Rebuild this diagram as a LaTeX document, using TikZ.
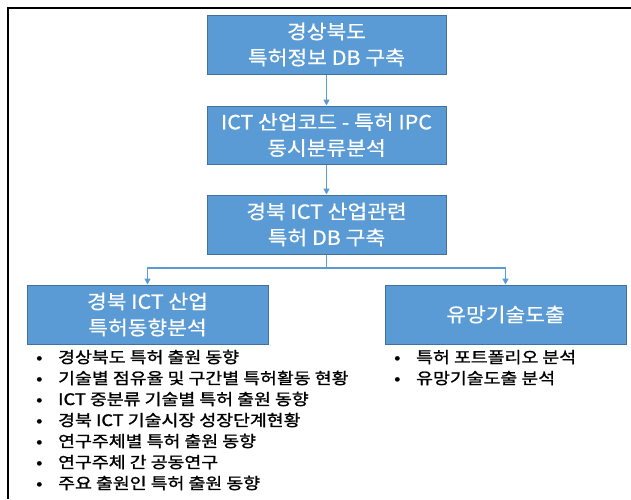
\documentclass[tikz,border=0pt]{standalone}
\usepackage{fontspec}
\setmainfont{Noto Sans CJK KR}
\newfontfamily\boxfont[FakeStretch=1.1,FakeBold=0.6]{Noto Sans CJK KR}
\newfontfamily\listfont[FakeStretch=1.16,FakeBold=1.2]{Noto Sans CJK KR}
\usetikzlibrary{arrows.meta}
\definecolor{boxblue}{HTML}{5B9BD5}
\definecolor{boxedge}{HTML}{41719C}
\tikzset{
  bx/.style={draw=boxedge, line width=1pt, fill=boxblue, text=white, align=center,
    font=\boxfont\fontsize{19.5}{26}\selectfont, inner sep=0pt},
  arr/.style={draw=boxblue, line width=1.5pt, -{Triangle[length=6pt,width=6pt]}},
  lnk/.style={draw=boxblue, line width=1.5pt},
  itm/.style={anchor=base west, inner sep=0pt, font=\listfont\fontsize{15.8}{21}\selectfont},
}
\begin{document}
\begin{tikzpicture}[x=1pt,y=-1pt]
\useasboundingbox (0,0) rectangle (631,499);
\draw[line width=1.8pt] (8,499) -- (8,8) -- (631,8);
\node[bx, minimum width=239pt, minimum height=59pt] (b1) at (326.5,44.5) {경상북도\\특허정보 DB 구축};
\node[bx, minimum width=239pt, minimum height=58pt] (b2) at (326.5,135) {ICT 산업코드 - 특허 IPC\\동시분류분석};
\node[bx, minimum width=239pt, minimum height=59pt] (b3) at (326.5,224.5) {경북 ICT 산업관련\\특허 DB 구축};
\node[bx, minimum width=241pt, minimum height=59pt] (b4) at (147.5,314.5) {경북 ICT 산업\\특허동향분석};
\node[bx, minimum width=241pt, minimum height=59pt] (b5) at (505.5,314.5) {유망기술도출};
\draw[arr] (b1) -- (b2);
\draw[arr] (b2) -- (b3);
\coordinate (j) at (326.5,268);
\draw[lnk] (b3) -- (j);
\draw[arr] (j) -| (b4);
\draw[arr] (j) -| (b5);
\node[itm] (l1) at (36,363) {\makebox[22pt][l]{•}경상북도 특허 출원 동향};
\node[itm] (l2) at (36,384) {\makebox[22pt][l]{•}기술별 점유율 및 구간별 특허활동 현황};
\node[itm] (l3) at (36,405) {\makebox[22pt][l]{•}ICT 중분류 기술별 특허 출원 동향};
\node[itm] (l4) at (36,426) {\makebox[22pt][l]{•}경북 ICT 기술시장 성장단계현황};
\node[itm] (l5) at (36,447) {\makebox[22pt][l]{•}연구주체별 특허 출원 동향};
\node[itm] (l6) at (36,468) {\makebox[22pt][l]{•}연구주체 간 공동연구};
\node[itm] (l7) at (36,489) {\makebox[22pt][l]{•}주요 출원인 특허 출원 동향};
\node[itm] (r1) at (394,363) {\makebox[22pt][l]{•}특허 포트폴리오 분석};
\node[itm] (r2) at (394,384) {\makebox[22pt][l]{•}유망기술도출 분석};
\end{tikzpicture}
\end{document}
